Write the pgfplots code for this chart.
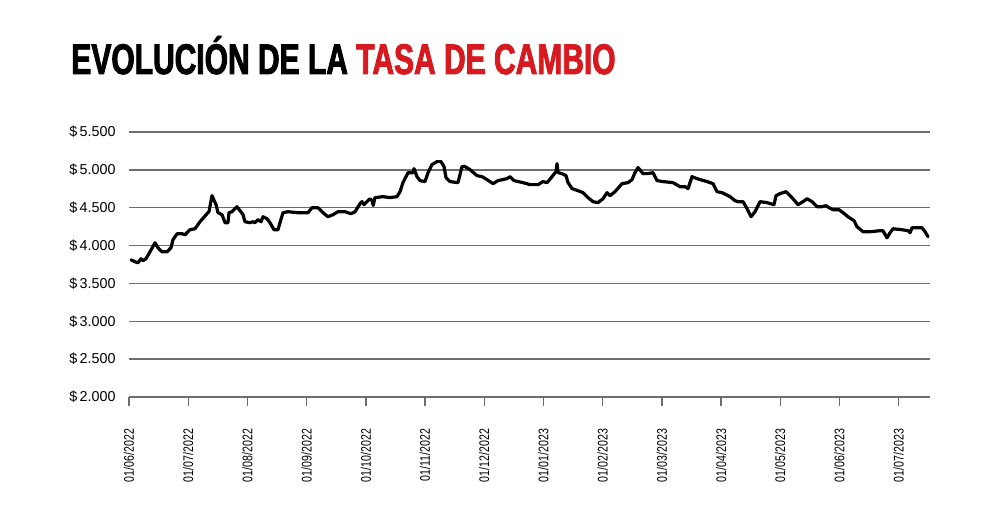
\documentclass[border=0pt]{standalone}
\usepackage{fontspec}
\setmainfont{Liberation Sans}
\newfontfamily\titlefont{Liberation Sans}[FakeStretch=0.70,FakeBold=2]
\newfontfamily\narrowfont{Liberation Sans}[FakeStretch=0.76]
\usepackage{pgfplots}
\pgfplotsset{compat=1.18}
\definecolor{titlered}{RGB}{215,25,32}
\definecolor{gridgray}{RGB}{110,110,110}

\pgfplotstableread{
x y
0.034 3812
0.101 3786
0.152 3773
0.203 3826
0.236 3800
0.287 3826
0.355 3918
0.439 4037
0.490 3971
0.557 3918
0.642 3918
0.709 3971
0.743 4077
0.811 4156
0.895 4156
0.946 4143
1.030 4209
1.115 4222
1.199 4315
1.318 4421
1.351 4447
1.402 4659
1.470 4540
1.503 4434
1.571 4408
1.622 4302
1.672 4302
1.689 4434
1.740 4447
1.824 4513
1.875 4461
1.926 4408
1.959 4315
2.044 4302
2.095 4315
2.128 4302
2.179 4342
2.230 4315
2.264 4381
2.331 4355
2.382 4302
2.449 4209
2.517 4209
2.551 4302
2.601 4434
2.686 4447
2.855 4434
3.024 4434
3.091 4500
3.193 4500
3.277 4434
3.361 4381
3.446 4408
3.530 4447
3.649 4447
3.750 4421
3.818 4447
3.902 4553
3.936 4580
3.970 4540
4.020 4580
4.071 4619
4.110 4590
4.125 4530
4.155 4633
4.291 4646
4.409 4633
4.527 4646
4.578 4712
4.628 4831
4.713 4963
4.797 4963
4.814 5016
4.865 4910
4.916 4858
5.000 4845
5.051 4963
5.118 5069
5.203 5109
5.270 5109
5.321 5043
5.355 4897
5.422 4845
5.557 4831
5.625 5043
5.676 5043
5.760 5003
5.878 4924
5.963 4910
6.047 4871
6.149 4818
6.233 4858
6.385 4884
6.436 4910
6.503 4858
6.655 4831
6.774 4805
6.909 4805
6.993 4845
7.061 4831
7.145 4910
7.213 4977
7.230 5082
7.247 4963
7.314 4950
7.382 4924
7.416 4831
7.483 4752
7.584 4725
7.669 4699
7.753 4633
7.838 4580
7.922 4567
8.007 4619
8.074 4699
8.125 4659
8.209 4712
8.328 4818
8.429 4831
8.497 4871
8.547 4963
8.598 5030
8.682 4950
8.767 4950
8.851 4963
8.919 4858
9.020 4845
9.189 4831
9.307 4778
9.392 4778
9.443 4752
9.510 4910
9.595 4884
9.764 4845
9.865 4818
9.932 4712
10.017 4699
10.152 4646
10.236 4593
10.287 4580
10.372 4580
10.439 4487
10.507 4381
10.574 4447
10.659 4580
10.777 4567
10.895 4540
10.929 4659
10.997 4686
11.098 4712
11.199 4633
11.301 4540
11.385 4580
11.453 4619
11.537 4580
11.622 4514
11.706 4514
11.774 4527
11.824 4500
11.892 4474
11.993 4474
12.061 4434
12.145 4381
12.247 4328
12.297 4249
12.399 4183
12.517 4183
12.686 4196
12.736 4196
12.804 4103
12.855 4169
12.905 4222
13.057 4209
13.159 4196
13.193 4169
13.226 4235
13.395 4235
13.446 4183
13.497 4117
}\tasa

\begin{document}
\begin{tikzpicture}
\useasboundingbox (0,0) rectangle (500bp,265bp);
\node[anchor=base west, inner sep=0pt, font=\titlefont\bfseries\fontsize{21.5}{22}\selectfont]
  at (35.5bp,228bp) {EVOLUCIÓN DE LA \textcolor{titlered}{TASA DE CAMBIO}};
\begin{axis}[
    at={(64.5bp,66.5bp)},
    anchor=south west,
    scale only axis,
    width=400.5bp,
    height=132.5bp,
    xmin=0, xmax=13.53,
    ymin=2000, ymax=5500,
    axis line style={draw=none},
    ytick={2000,2500,...,5500},
    yticklabels={\$\,2.000,\$\,2.500,\$\,3.000,\$\,3.500,\$\,4.000,\$\,4.500,\$\,5.000,\$\,5.500},
    ymajorgrids,
    grid style={gridgray, line width=0.7bp},
    ytick style={draw=none},
    xtick={0,...,13},
    xtick pos=bottom,
    xticklabels={01/06/2022,01/07/2022,01/08/2022,01/09/2022,01/10/2022,01/11/2022,01/12/2022,
      01/01/2023,01/02/2023,01/03/2023,01/04/2023,01/05/2023,01/06/2023,01/07/2023},
    xtick style={gridgray, line width=0.7bp},
    tick align=outside,
    major tick length=4.5bp,
    yticklabel style={font=\fontsize{7.2}{8}\selectfont, xshift=1.3bp},
    xticklabel shift=8bp,
    xticklabel style={font=\narrowfont\fontsize{7}{8}\selectfont, rotate=90, anchor=east},
]
\addplot[black, line width=1.6bp, line join=round, line cap=round] table[x=x, y=y] {\tasa};
\end{axis}
\end{tikzpicture}
\end{document}
